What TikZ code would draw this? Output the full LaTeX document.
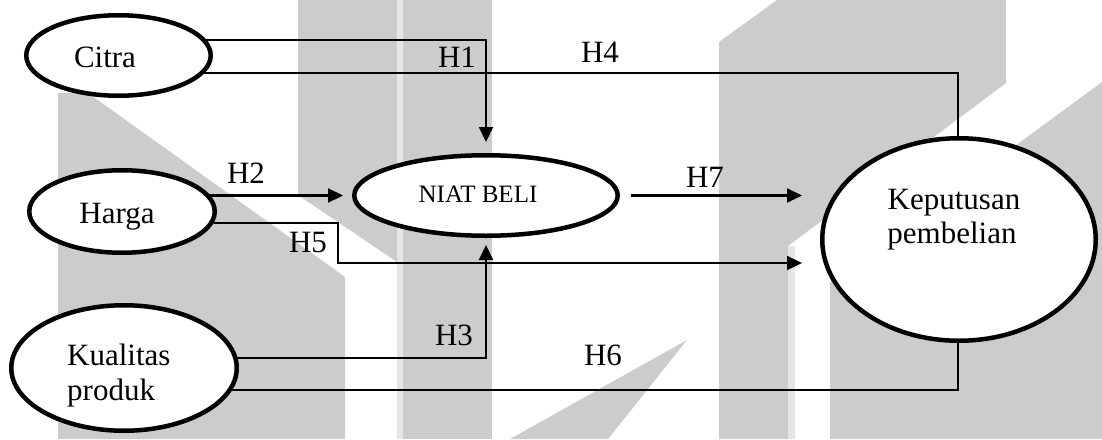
\documentclass[tikz,border=0pt]{standalone}
\usepackage{fontspec}
\setmainfont{Liberation Serif}
\usetikzlibrary{shapes.geometric,arrows.meta,calc}
\definecolor{wmgray}{HTML}{CCCCCC}
\definecolor{wmseam}{HTML}{E6E6E6}
\pgfdeclarelayer{wm}
\pgfdeclarelayer{links}
\pgfsetlayers{wm,links,main}
\begin{document}
\begin{tikzpicture}[x=1pt,y=-1pt,
  var/.style={ellipse,draw=black,line width=4.5pt,fill=white,inner sep=0pt},
  txt/.style={font=\fontsize{31}{35}\selectfont,anchor=base,inner sep=0pt},
  smalltxt/.style={font=\fontsize{25}{30}\selectfont,anchor=base,inner sep=0pt},
  link/.style={line width=2.2pt},
  arr/.style={link,-{Triangle[length=15pt,width=14pt]}},
]
\useasboundingbox (0,0) rectangle (1102,439);

% faint background emblem
\begin{pgfonlayer}{wm}
  \fill[white] (0,0) rectangle (1102,439);
  \fill[wmgray] (58,93) -- (88,93) -- (345,277) -- (345,439) -- (58,439) -- cycle;
  \fill[wmgray] (298,0) -- (397,0) -- (397,262) -- (298,195) -- cycle;
  \fill[wmseam] (397,0) rectangle (403,439);
  \fill[wmgray] (403,0) rectangle (492,439);
  \fill[wmgray] (719,42) -- (777,0) -- (1006,0) -- (1006,83) -- (788,246) -- (788,439) -- (719,439) -- cycle;
  \fill[wmseam] (788,246) rectangle (795,439);
  \fill[wmgray] (1102,82) -- (830,282) -- (830,439) -- (1102,439) -- cycle;
  \fill[wmgray] (687,340) -- (510,439) -- (608,439) -- cycle;
\end{pgfonlayer}

% variables
\node[var,minimum width=184.5pt,minimum height=80.5pt] (citra) at (118.5,55.5) {};
\node[var,minimum width=185.5pt,minimum height=82.5pt] (harga) at (122,211.5) {};
\node[var,minimum width=225.5pt,minimum height=125.5pt] (kualitas) at (124,368) {};
\node[var,minimum width=263.5pt,minimum height=80.5pt] (niat) at (486,195.5) {};
\node[var,minimum width=273.5pt,minimum height=202.5pt] (kp) at (959,239.5) {};

\node[txt] (t-citra) at (105,67) {Citra};
\node[txt] (t-harga) at (117,223) {Harga};
\node[txt,anchor=base west] (t-kual) at (67,365) {Kualitas};
\node[txt,anchor=base west] (t-prod) at (67,400) {produk};
\node[smalltxt] (t-niat) at (478,202) {NIAT BELI};
\node[txt] (t-kep) at (954,209) {Keputusan};
\node[txt] (t-pem) at (952,243) {pembelian};

% hypothesis labels
\node[txt] (h1) at (457,67) {H1};
\node[txt] (h2) at (246,183) {H2};
\node[txt] (h3) at (454,345) {H3};
\node[txt] (h4) at (600,62) {H4};
\node[txt] (h5) at (308,252) {H5};
\node[txt] (h6) at (603,365) {H6};
\node[txt] (h7) at (705,187) {H7};

\coordinate (h5bend) at (338,263);

% paths
\begin{pgfonlayer}{links}
  \draw[arr] ([yshift=15.5pt]citra.center) -| ([yshift=11pt]niat.north);
  \draw[link] ([yshift=-17.5pt]citra.center) -| ([xshift=-1pt]kp.north);
  \draw[arr] (harga.center |- niat.center) -- ([xshift=-9pt]niat.west);
  \draw[arr] ([yshift=-11.5pt]harga.center) -| (h5bend) -- ($(kp.west |- h5bend)+(-18,0)$);
  \draw[arr] ([yshift=10pt]kualitas.center) -| ([yshift=-7pt]niat.south);
  \draw[link] ([yshift=-22pt]kualitas.center) -| ([xshift=-1pt]kp.south);
  \draw[arr] ([xshift=11pt]niat.east) -- ($(kp.west |- niat.east)+(-18,0)$);
\end{pgfonlayer}
\end{tikzpicture}
\end{document}
